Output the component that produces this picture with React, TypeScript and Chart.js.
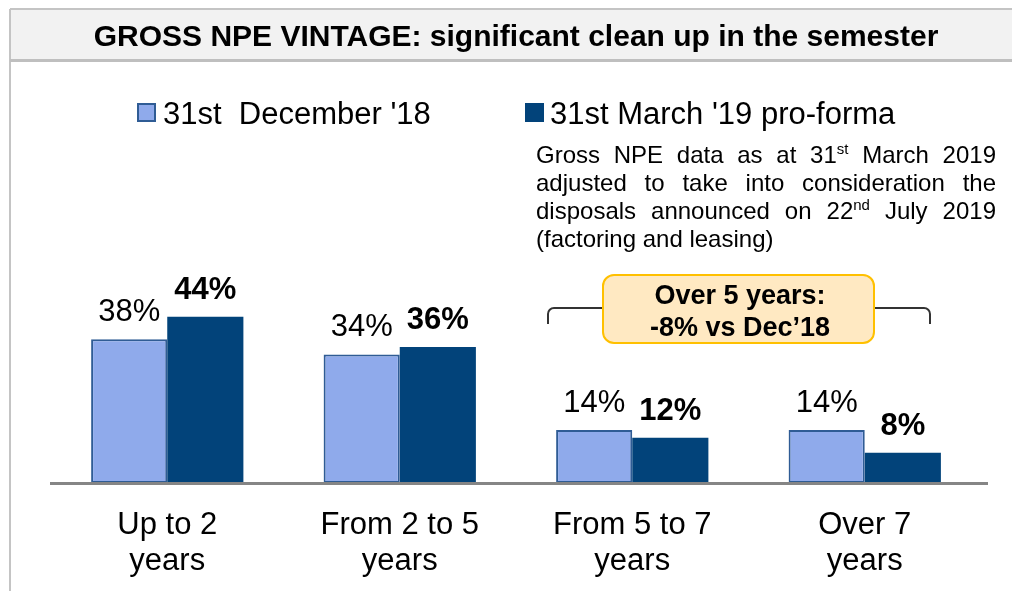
import React, { useEffect, useRef } from "react";
import { Chart, registerables } from "chart.js";

Chart.register(...registerables);

const categories: string[][] = [
  ["Up to 2", "years"],
  ["From 2 to 5", "years"],
  ["From 5 to 7", "years"],
  ["Over 7", "years"],
];
const dec18: number[] = [38, 34, 14, 14];
const mar19: number[] = [44, 36, 12, 8];
const seriesNames: string[] = ["31st  December '18", "31st March '19 pro-forma"];
const titleText = "GROSS NPE VINTAGE: significant clean up in the semester";
const boxLines: string[] = ["Over 5 years:", "-8% vs Dec\u201918"];

const LIGHT = "#8FAAEB";
const LIGHT_BORDER = "#2F5C95";
const DARK = "#02437A";
const FONT = "'Liberation Sans', Arial, sans-serif";

const decorPlugin = {
  id: "decor",
  beforeDraw(chart: any) {
    const ctx = chart.ctx;
    ctx.save();
    ctx.fillStyle = "#ffffff";
    ctx.fillRect(0, 0, chart.width, chart.height);
    // title bar
    ctx.fillStyle = "#f2f2f2";
    ctx.fillRect(10, 9, 1002, 51);
    ctx.strokeStyle = "#c4c4c4";
    ctx.lineWidth = 2;
    ctx.beginPath();
    ctx.moveTo(10, 9);
    ctx.lineTo(1012, 9);
    ctx.moveTo(10, 9);
    ctx.lineTo(10, 591);
    ctx.stroke();
    ctx.strokeStyle = "#bfbfbf";
    ctx.lineWidth = 3;
    ctx.beginPath();
    ctx.moveTo(10, 60.5);
    ctx.lineTo(1012, 60.5);
    ctx.stroke();
    ctx.fillStyle = "#000";
    ctx.font = `bold 30px ${FONT}`;
    ctx.textAlign = "center";
    ctx.textBaseline = "alphabetic";
    ctx.fillText(titleText, 516, 46);

    // legend
    ctx.textAlign = "left";
    ctx.font = `31px ${FONT}`;
    ctx.fillStyle = LIGHT;
    ctx.fillRect(138, 104, 17, 17);
    ctx.strokeStyle = LIGHT_BORDER;
    ctx.lineWidth = 2;
    ctx.strokeRect(138, 104, 17, 17);
    ctx.fillStyle = "#000";
    ctx.fillText(seriesNames[0], 163, 124);
    ctx.fillStyle = DARK;
    ctx.fillRect(525, 103, 19, 19);
    ctx.fillStyle = "#000";
    ctx.fillText(seriesNames[1], 550, 124);

    // bracket
    ctx.strokeStyle = "#333";
    ctx.lineWidth = 2;
    ctx.beginPath();
    ctx.moveTo(548, 324);
    ctx.lineTo(548, 314);
    ctx.arcTo(548, 308, 554, 308, 6);
    ctx.lineTo(603, 308);
    ctx.moveTo(874, 308);
    ctx.lineTo(924, 308);
    ctx.arcTo(930, 308, 930, 314, 6);
    ctx.lineTo(930, 324);
    ctx.stroke();

    // box
    ctx.beginPath();
    (ctx as any).roundRect(603, 275, 271, 68, 11);
    ctx.fillStyle = "#FFE9C2";
    ctx.fill();
    ctx.strokeStyle = "#FFC000";
    ctx.lineWidth = 2;
    ctx.stroke();
    ctx.fillStyle = "#000";
    ctx.font = `bold 27px ${FONT}`;
    ctx.textAlign = "center";
    ctx.fillText(boxLines[0], 740, 304);
    ctx.fillText(boxLines[1], 740, 336);
    ctx.restore();
  },
  afterDatasetsDraw(chart: any) {
    const ctx = chart.ctx;
    ctx.save();
    // axis line
    ctx.strokeStyle = "#858585";
    ctx.lineWidth = 3;
    ctx.beginPath();
    ctx.moveTo(50, 483.5);
    ctx.lineTo(988, 483.5);
    ctx.stroke();
    ctx.textAlign = "center";
    ctx.textBaseline = "alphabetic";
    ctx.fillStyle = "#000";
    chart.data.datasets.forEach((ds: any, di: number) => {
      const meta = chart.getDatasetMeta(di);
      ctx.font = `${di === 1 ? "bold " : ""}31px ${FONT}`;
      meta.data.forEach((el: any, i: number) => {
        ctx.fillText(`${ds.data[i]}%`, el.x, el.y - 18);
      });
    });
    ctx.restore();
  },
};

function NoteText() {
  const line: React.CSSProperties = {
    textAlign: "justify",
    textAlignLast: "justify" as any,
    whiteSpace: "nowrap",
  };
  const sup: React.CSSProperties = { fontSize: "15px", lineHeight: 0, verticalAlign: "9px" };
  return (
    <div
      style={{
        position: "absolute",
        left: 536,
        top: 141,
        width: 460,
        fontFamily: FONT,
        fontSize: "24px",
        lineHeight: "28px",
        color: "#000",
      }}
    >
      <div style={line}>
        Gross NPE data as at 31<span style={sup}>st</span> March 2019
      </div>
      <div style={line}>adjusted to take into consideration the</div>
      <div style={line}>
        disposals announced on 22<span style={sup}>nd</span> July 2019
      </div>
      <div style={{ textAlign: "left" }}>(factoring and leasing)</div>
    </div>
  );
}

export default function App() {
  const ref = useRef<HTMLCanvasElement | null>(null);
  useEffect(() => {
    if (!ref.current) return;
    const chart = new Chart(ref.current, {
      type: "bar",
      data: {
        labels: categories,
        datasets: [
          {
            label: seriesNames[0],
            data: dec18,
            backgroundColor: LIGHT,
            borderColor: LIGHT_BORDER,
            borderWidth: 2,
            borderSkipped: false,
            barPercentage: 1,
            categoryPercentage: 0.655,
          },
          {
            label: seriesNames[1],
            data: mar19,
            backgroundColor: DARK,
            borderWidth: 0,
            barPercentage: 1,
            categoryPercentage: 0.655,
          },
        ],
      },
      options: {
        responsive: false,
        animation: false,
        devicePixelRatio: 1,
        layout: { padding: { left: 51, right: 31, top: 105, bottom: -12 } },
        plugins: {
          legend: { display: false },
          tooltip: { enabled: false },
          title: { display: false },
        },
        scales: {
          x: {
            grid: { display: false, drawTicks: false },
            border: { display: false },
            ticks: {
              color: "#000",
              padding: 24,
              font: { family: FONT, size: 31, lineHeight: "36px" },
              maxRotation: 0,
              autoSkip: false,
            },
          },
          y: {
            display: false,
            min: 0,
            max: 100,
          },
        },
      },
      plugins: [decorPlugin],
    });
    return () => chart.destroy();
  }, []);
  return (
    <div
      style={{
        position: "absolute",
        left: 0,
        top: 0,
        width: 1012,
        height: 591,
        overflow: "hidden",
        background: "#fff",
      }}
    >
      <canvas ref={ref} width={1012} height={591} style={{ display: "block" }} />
      <NoteText />
    </div>
  );
}
